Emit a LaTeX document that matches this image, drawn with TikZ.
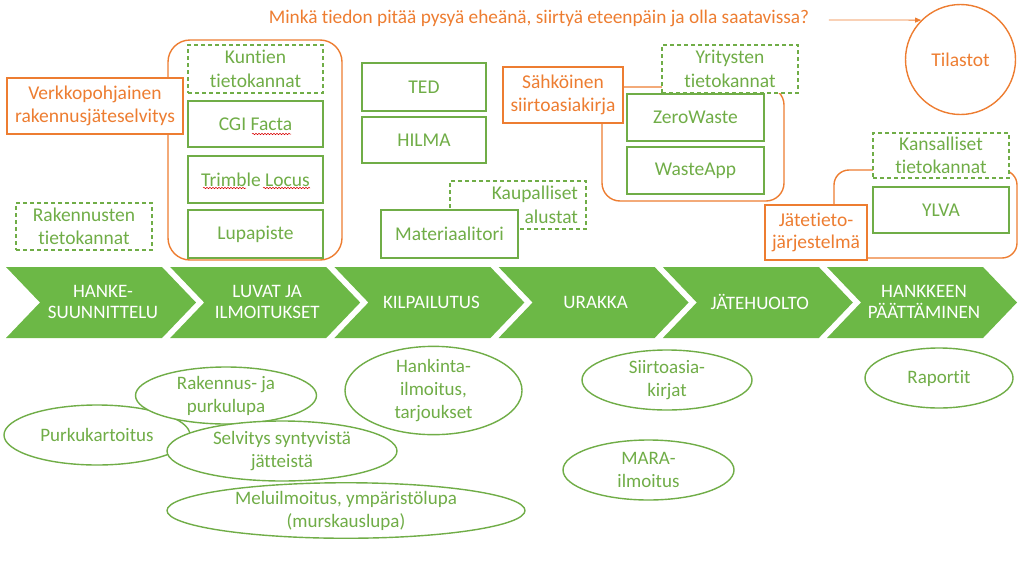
\documentclass[tikz,border=0pt]{standalone}
\usepackage{fontspec}
\setmainfont{Carlito}[Ligatures=NoCommon]
\usetikzlibrary{shapes.geometric,arrows.meta,decorations.pathmorphing}
\definecolor{vihrea}{RGB}{112,173,71}
\definecolor{nuoli}{RGB}{108,184,70}
\definecolor{oranssi}{RGB}{237,125,49}
\tikzset{
  gbox/.style 2 args={draw=vihrea,line width=1.4pt,fill=white,text=vihrea,align=center,
    minimum width=#1pt,minimum height=#2pt,inner sep=2pt,font=\fontsize{19.5}{23.5}\selectfont},
  dbox/.style 2 args={gbox={#1}{#2},line width=1.2pt,dash pattern=on 4pt off 3pt},
  obox/.style 2 args={draw=oranssi,line width=1.2pt,fill=white,text=oranssi,align=center,
    minimum width=#1pt,minimum height=#2pt,inner sep=2pt,font=\fontsize{19.5}{22.5}\selectfont},
  group/.style={draw=oranssi,line width=1.4pt},
  soikio/.style 2 args={ellipse,draw=vihrea,line width=1.4pt,fill=white,text=vihrea,align=center,
    minimum width=#1pt,minimum height=#2pt,inner sep=0pt,font=\fontsize{19}{23}\selectfont},
  vaihe/.style={text=white,align=center,font=\fontsize{19}{20.5}\selectfont},
  oikoluku/.style={draw=red!85!black,line width=0.5pt,decorate,
    decoration={snake,amplitude=0.7pt,segment length=3pt}}
}
\begin{document}
\begin{tikzpicture}[x=1pt,y=-1pt]
\useasboundingbox (0,0) rectangle (1024,573);

% phases
\foreach \i/\txt in {0/{HANKE-\\SUUNNITTELU},1/{LUVAT JA\\ILMOITUKSET},2/KILPAILUTUS,
    3/URAKKA,4/JÄTEHUOLTO,5/{HANKKEEN\\PÄÄTTÄMINEN}}{
  \pgfmathsetmacro\xa{6+164.2*\i}
  \fill[nuoli] (\xa,267) -- (\xa+156,267) -- (\xa+190,302.5) -- (\xa+156,338)
    -- (\xa,338) -- (\xa+34,302.5) -- cycle;
  \node[vaihe] (phase\i) at (\xa+97,302) {\txt};
}

% groups
\draw[group,rounded corners=22pt] (168,40) rectangle (342,260);
\draw[group,rounded corners=18pt] (602,87) rectangle (784,201);
\draw[group,rounded corners=15pt] (834,170) rectangle (1017,258);

\node[dbox={135}{48}] (kuntien) at (255.5,69) {Kuntien\\tietokannat};
\node[gbox={135}{46}] (facta) at (255.5,124) {CGI Facta};
\node[gbox={135}{47}] (locus) at (255.5,179.5) {Trimble Locus};
\node[gbox={135}{48}] (lupapiste) at (255.5,234) {Lupapiste};
\node[obox={176}{56}] (verkko) at (95,106) {Verkkopohjainen\\rakennusjäteselvitys};
\node[dbox={136}{47}] (rakennusten) at (84,226.5) {Rakennusten\\tietokannat};

\node[gbox={124}{48}] (ted) at (424,87) {TED};
\node[gbox={124}{46}] (hilma) at (424,140) {HILMA};
\node[dbox={136}{48},text width=120pt,align=right] (kaupalliset) at (518,205) {Kaupalliset\\alustat};
\node[gbox={137}{48}] (materiaalitori) at (449.5,234) {Materiaalitori};

\node[obox={120}{56}] (sahkoinen) at (563,95) {Sähköinen\\siirtoasiakirja};
\node[dbox={136}{48}] (yritysten) at (730,69) {Yritysten\\tietokannat};
\node[gbox={137}{47}] (zerowaste) at (695.5,117.5) {ZeroWaste};
\node[gbox={137}{47}] (wasteapp) at (695.5,170.5) {WasteApp};

\node[dbox={136}{45}] (kansalliset) at (941,155.5) {Kansalliset\\tietokannat};
\node[gbox={136}{46}] (ylva) at (941,210) {YLVA};
\node[obox={102}{55}] (jatetieto) at (816,232.5) {Jätetieto-\\järjestelmä};

\node[circle,draw=oranssi,line width=1.4pt,text=oranssi,minimum size=110pt,
  font=\fontsize{19.5}{23}\selectfont] (tilastot) at (960.5,59.5) {Tilastot};
\node[text=oranssi,font=\fontsize{19.3}{23}\selectfont] (kysymys) at (539,18)
  {Minkä tiedon pitää pysyä eheänä, siirtyä eteenpäin ja olla saatavissa?};
\draw[oranssi,line width=0.8pt,-{Triangle[length=6pt,width=5pt]}]
  ([xshift=16pt,yshift=-2pt]kysymys.east) -- (tilastot.135);

% spelling marks
\draw[oikoluku] (252,134) -- (291,134);
\draw[oikoluku] (203,188) -- (246,188);
\draw[oikoluku] (263,188) -- (310,188);

% documents
\node[soikio={186}{60}] (purkukartoitus) at (97,435) {Purkukartoitus};
\node[soikio={181}{57}] (lupa) at (226,395.5) {Rakennus- ja\\purkulupa};
\node[soikio={230}{60}] (selvitys) at (282,451) {Selvitys syntyvistä\\jätteistä};
\node[soikio={358}{55}] (melu) at (346,510.5) {Meluilmoitus, ympäristölupa\\(murskauslupa)};
\node[soikio={177}{79}] (hankinta) at (433.5,390.5) {Hankinta-\\ilmoitus,\\tarjoukset};
\node[soikio={170}{60}] (siirto) at (667,380) {Siirtoasia-\\kirjat};
\node[soikio={171}{60}] (mara) at (648.5,470) {MARA-\\ilmoitus};
\node[soikio={148}{60}] (raportit) at (939,378) {Raportit};
\end{tikzpicture}
\end{document}
